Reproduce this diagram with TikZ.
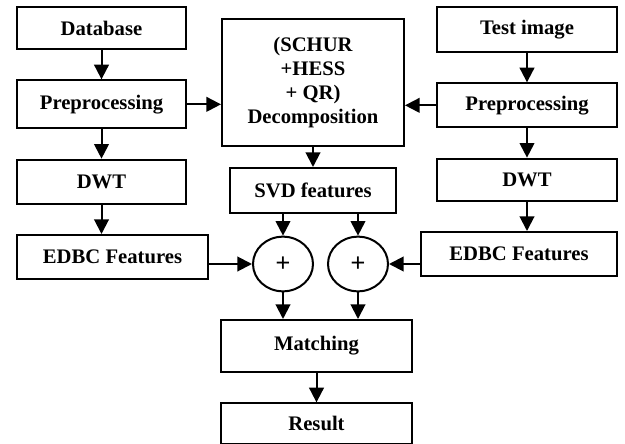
\documentclass[tikz,border=0pt]{standalone}
\usepackage{fontspec}
\setmainfont{Liberation Serif}
\newfontfamily\plusfont{Liberation Sans}
\usetikzlibrary{positioning, arrows.meta, shapes.geometric}

\begin{document}
\begin{tikzpicture}[x=0.75pt,y=-0.75pt,->,>={Triangle[length=11pt,width=11pt]},
    line width=1.5pt,node distance=22pt,
    font=\fontsize{15.5}{18.2}\selectfont\bfseries,
    block/.style={draw,rectangle,align=center,inner sep=2pt,minimum height=33pt},
    sumnode/.style={draw,ellipse,inner sep=0pt,minimum width=45pt,minimum height=41pt,
      font=\fontsize{19}{20}\plusfont\mdseries}]
      \useasboundingbox (0,0) rectangle (625,443);
      % database side
      \node[block,minimum width=126.75pt,minimum height=31.5pt] (db) at (101.5,28) {Database};
      \node[block,minimum width=126.75pt,minimum height=36pt,below=of db] (prepL) {Preprocessing};
      \node[block,minimum width=126.75pt,below=of prepL] (dwtL) {DWT};
      \node[block,minimum width=143.25pt,below=22pt of dwtL.south west,anchor=north west] (edbcL) {EDBC Features};
      % test image side
      \node[block,minimum width=135pt,minimum height=33.75pt] (test) at (527,29.5) {Test image};
      \node[block,minimum width=135pt,below=of test] (prepR) {Preprocessing};
      \node[block,minimum width=135pt,minimum height=31.5pt,below=of prepR] (dwtR) {DWT};
      \node[block,minimum width=147pt,below=22pt of dwtR.south east,anchor=north east] (edbcR) {EDBC Features};
      % middle
      \node[block,minimum width=136.5pt,minimum height=95.25pt] (decomp) at (313,82.5)
        {(SCHUR\\+HESS\\+ QR)\\Decomposition};
      \node[block,minimum width=124.5pt,minimum height=33.75pt,below=15pt of decomp] (svd) {SVD features};
      \node[sumnode] (cL) at (283,264) {\raisebox{-3pt}{+}};
      \node[sumnode] (cR) at (358,264) {\raisebox{-3pt}{+}};
      \node[block,minimum width=143.25pt,minimum height=39pt] (match) at (316.5,346) {Matching};
      \node[block,minimum width=143.25pt,minimum height=30.75pt,below=of match] (res) {Result};
      \path (db) edge (prepL)
        (prepL) edge (dwtL)
        (dwtL) edge (dwtL.south |- edbcL.north)
        (test) edge (prepR)
        (prepR) edge (dwtR)
        (dwtR) edge (dwtR.south |- edbcR.north)
        (prepL) edge (prepL -| decomp.west)
        (prepR) edge (prepR -| decomp.east)
        (decomp) edge (decomp |- svd.north)
        (svd.south -| cL) edge (cL)
        (svd.south -| cR) edge (cR)
        (cL -| edbcL.east) edge (cL)
        (cR -| edbcR.west) edge (cR)
        (cL) edge (cL |- match.north)
        (cR) edge (cR |- match.north)
        (match) edge (res);
    \end{tikzpicture}
\end{document}
